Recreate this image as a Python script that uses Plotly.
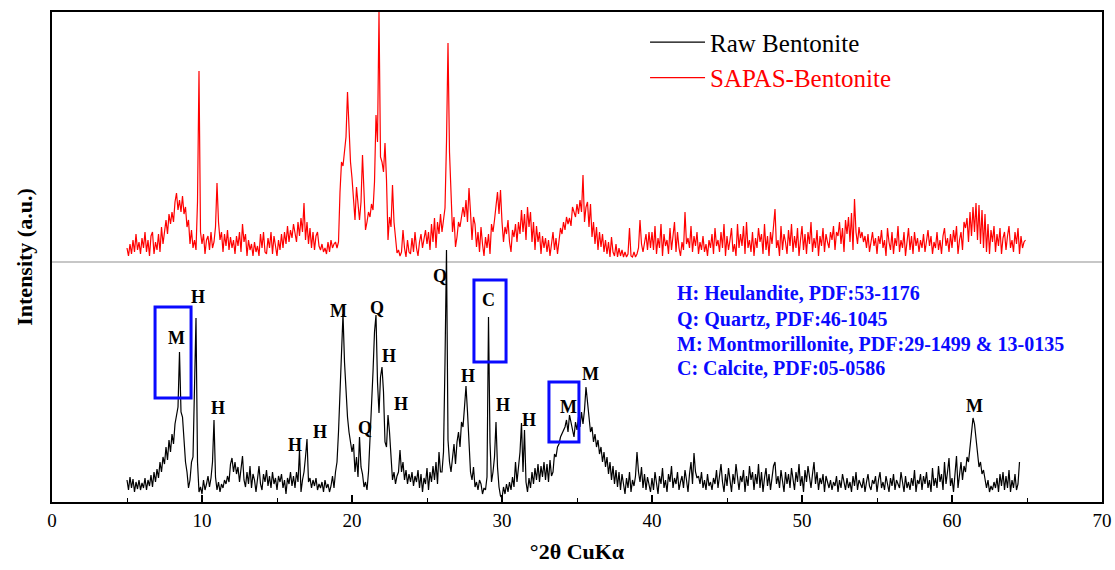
import numpy as np
import plotly.graph_objects as go

# ---------------- data ----------------
TWO_THETA_START = 5.0      # degrees 2-theta of first sample
TWO_THETA_STEP = 0.1       # sampling step, degrees

# Raw bentonite intensity (a.u.), one row per degree starting at 5.0
RAW_INTENSITY = [
    22, 12, 25, 14, 23, 10, 20, 13, 22, 12,
    19, 14, 24, 12, 22, 16, 27, 15, 30, 20,
    33, 24, 40, 30, 45, 38, 55, 42, 62, 50,
    68, 58, 78, 86, 95, 150, 90, 85, 55, 40,
    30, 14, 22, 40, 45, 110, 184, 40, 10, 15,
    8, 22, 12, 18, 26, 15, 24, 40, 82, 25,
    12, 20, 10, 18, 14, 22, 18, 26, 20, 38,
    44, 30, 40, 28, 35, 20, 32, 46, 22, 15,
    30, 18, 36, 14, 28, 22, 10, 25, 36, 18,
    12, 28, 20, 32, 16, 26, 14, 30, 18, 24,
    12, 26, 20, 28, 14, 22, 8, 24, 18, 30,
    16, 26, 14, 30, 20, 52, 10, 22, 30, 45,
    63, 20, 24, 14, 22, 16, 24, 12, 18, 14,
    20, 10, 22, 14, 18, 10, 16, 26, 14, 30,
    40, 70, 110, 150, 188, 140, 110, 85, 70, 60,
    50, 58, 30, 45, 25, 65, 35, 28, 15, 20,
    12, 30, 60, 90, 130, 170, 187, 120, 89, 125,
    135, 110, 60, 55, 87, 70, 40, 22, 30, 18,
    26, 30, 52, 30, 40, 22, 32, 18, 28, 20,
    30, 16, 26, 20, 32, 14, 28, 10, 24, 18,
    34, 12, 30, 20, 36, 22, 40, 18, 50, 30,
    30, 50, 140, 252, 62, 40, 30, 45, 58, 38,
    60, 70, 55, 80, 75, 95, 116, 90, 60, 30,
    22, 35, 15, 20, 12, 22, 18, 8, 14, 12,
    25, 185, 60, 20, 30, 45, 80, 35, 15, 6,
    4, 15, 8, 18, 10, 20, 12, 25, 15, 40,
    20, 35, 50, 79, 30, 72, 20, 10, 24, 14,
    30, 18, 34, 22, 38, 20, 36, 25, 40, 22,
    38, 20, 42, 26, 30, 48, 45, 55, 58, 65,
    68, 72, 75, 82, 70, 87, 80, 72, 65, 80,
    72, 85, 75, 90, 78, 92, 115, 100, 80, 70,
    75, 60, 68, 55, 62, 48, 55, 40, 50, 35,
    45, 28, 40, 22, 36, 18, 32, 15, 30, 12,
    28, 20, 8, 24, 14, 30, 10, 22, 16, 26,
    50, 30, 20, 35, 14, 28, 12, 25, 18, 10,
    24, 12, 30, 16, 8, 26, 18, 34, 14, 22,
    10, 28, 20, 36, 14, 24, 18, 30, 12, 20,
    26, 14, 32, 22, 10, 28, 40, 18, 49, 30,
    24, 26, 18, 30, 14, 22, 12, 28, 16, 20,
    12, 24, 18, 32, 14, 26, 38, 20, 10, 28,
    16, 34, 22, 10, 28, 18, 38, 24, 12, 26,
    20, 32, 10, 26, 16, 36, 22, 30, 12, 28,
    18, 38, 14, 30, 10, 24, 34, 16, 28, 12,
    22, 36, 40, 18, 26, 14, 32, 20, 10, 30,
    18, 28, 14, 34, 24, 12, 30, 20, 38, 16,
    26, 10, 32, 20, 36, 24, 14, 28, 40, 18,
    30, 12, 24, 18, 28, 10, 26, 20, 14, 22,
    12, 20, 16, 26, 10, 22, 14, 28, 18, 12,
    24, 14, 20, 10, 26, 16, 30, 12, 22, 18,
    14, 24, 10, 20, 28, 16, 12, 22, 18, 26,
    10, 22, 30, 14, 20, 12, 26, 18, 10, 24,
    16, 28, 12, 22, 18, 14, 30, 20, 10, 26,
    14, 20, 12, 24, 16, 32, 10, 22, 18, 28,
    12, 26, 18, 30, 14, 22, 10, 34, 16, 24,
    14, 36, 20, 28, 12, 40, 18, 30, 44, 16,
    24, 10, 34, 46, 14, 28, 40, 22, 36, 30,
    45, 40, 55, 70, 84, 78, 65, 50, 35, 40,
    28, 32, 20, 14, 22, 10, 16, 12, 20, 14,
    24, 10, 28, 16, 30, 12, 26, 14, 32, 10,
    22, 14, 28, 12, 18, 40,
]

# SAPAS-bentonite intensity (a.u.), one row per degree starting at 5.0
SAPAS_INTENSITY = [
    14, 6, 18, 8, 22, 10, 28, 12, 20, 8,
    24, 14, 30, 10, 22, 6, 26, 30, 8, 20,
    12, 28, 10, 35, 18, 30, 42, 28, 48, 38,
    50, 40, 60, 69, 52, 62, 50, 66, 48, 55,
    35, 42, 18, 32, 14, 22, 12, 60, 191, 30,
    18, 28, 8, 22, 26, 12, 30, 14, 20, 35,
    79, 40, 22, 30, 10, 28, 16, 32, 12, 25,
    14, 22, 8, 26, 16, 30, 10, 38, 20, 28,
    6, 22, 12, 18, 6, 20, 10, 16, 6, 28,
    14, 30, 10, 8, 24, 14, 30, 8, 26, 16,
    6, 22, 12, 28, 14, 30, 18, 36, 20, 32,
    24, 38, 28, 20, 40, 26, 44, 30, 59, 22,
    40, 18, 34, 14, 30, 12, 26, 30, 16, 12,
    18, 10, 14, 8, 20, 10, 22, 14, 18, 20,
    14, 20, 70, 100, 96, 112, 125, 170, 130, 100,
    84, 60, 42, 75, 55, 42, 60, 107, 70, 32,
    40, 50, 45, 58, 52, 80, 147, 120, 250, 105,
    100, 90, 119, 82, 22, 45, 35, 77, 40, 22,
    9, 12, 6, 10, 32, 14, 5, 22, 10, 8,
    24, 10, 30, 14, 6, 20, 28, 14, 24, 32,
    18, 30, 12, 38, 20, 44, 14, 40, 28, 48,
    30, 45, 54, 120, 219, 110, 65, 30, 45, 15,
    25, 40, 35, 48, 55, 45, 62, 40, 74, 50,
    22, 45, 38, 15, 30, 10, 35, 18, 6, 25,
    14, 28, 8, 38, 30, 42, 55, 70, 48, 72,
    40, 20, 35, 28, 42, 20, 10, 32, 25, 38,
    20, 40, 28, 52, 30, 48, 22, 55, 35, 50,
    20, 40, 12, 36, 20, 30, 8, 26, 14, 24,
    10, 22, 6, 18, 30, 12, 24, 8, 20, 34,
    28, 40, 32, 45, 38, 44, 36, 55, 50, 45,
    58, 48, 62, 50, 87, 40, 55, 60, 35, 58,
    25, 40, 18, 35, 12, 30, 15, 28, 10, 22,
    8, 20, 5, 25, 10, 6, 18, 5, 14, 6,
    12, 5, 10, 5, 8, 34, 6, 5, 10, 5,
    8, 14, 42, 18, 10, 22, 28, 12, 30, 14,
    30, 12, 36, 8, 24, 14, 38, 6, 28, 16,
    22, 8, 34, 12, 26, 40, 10, 30, 14, 6,
    20, 12, 50, 18, 24, 14, 36, 10, 26, 16,
    30, 8, 20, 12, 26, 10, 18, 6, 22, 14,
    28, 8, 34, 16, 22, 10, 30, 14, 38, 6,
    26, 12, 22, 34, 10, 18, 6, 38, 14, 28,
    16, 36, 8, 40, 14, 22, 10, 30, 6, 24,
    14, 34, 20, 28, 8, 38, 12, 26, 6, 30,
    18, 40, 53, 14, 22, 6, 36, 12, 28, 20,
    8, 32, 16, 38, 10, 26, 14, 34, 6, 22,
    36, 12, 28, 8, 30, 18, 40, 10, 24, 14,
    32, 6, 26, 16, 34, 10, 28, 20, 14, 30,
    22, 36, 12, 30, 26, 40, 18, 34, 10, 42,
    28, 45, 20, 49, 12, 63, 30, 18, 35, 24,
    30, 20, 26, 14, 28, 10, 22, 30, 16, 24,
    8, 26, 18, 32, 14, 22, 6, 34, 20, 12,
    30, 8, 24, 16, 36, 10, 22, 14, 30, 6,
    20, 34, 12, 26, 8, 30, 16, 24, 10, 22,
    14, 28, 10, 22, 32, 16, 26, 8, 20, 14,
    30, 12, 22, 8, 26, 34, 16, 24, 10, 28,
    14, 32, 20, 36, 8, 22, 30, 12, 40, 34,
    44, 20, 50, 26, 55, 30, 59, 22, 57, 18,
    52, 14, 48, 10, 38, 8, 32, 20, 36, 10,
    28, 16, 34, 8, 24, 30, 12, 26, 36, 14,
    22, 10, 30, 18, 34, 8, 26, 14, 20, 22,
]

SAPAS_OFFSET = 240          # vertical stacking offset of the upper pattern
SEPARATOR_LEVEL = 240       # grey divider between the two patterns

# Phase labels: (text, 2-theta, intensity)
PEAK_LABELS = [
    ("H", 9.73, 205), ("M", 8.27, 164), ("H", 11.07, 94),
    ("H", 16.2, 57), ("H", 17.87, 70), ("M", 19.13, 191),
    ("Q", 21.67, 194), ("Q", 20.87, 74), ("H", 22.47, 146),
    ("H", 23.27, 98), ("Q", 25.87, 226), ("C", 29.07, 202),
    ("H", 27.73, 126), ("H", 30.07, 97), ("H", 31.8, 82),
    ("M", 34.4, 95), ("M", 35.87, 128), ("M", 61.47, 96),
]
# Highlight boxes: (x0, x1, y0, y1)
BOXES = [(6.87, 9.27, 104, 195), (28.13, 30.27, 140, 222), (33.13, 35.13, 60, 120)]

PHASE_KEY = [
    "H: Heulandite, PDF:53-1176",
    "Q: Quartz, PDF:46-1045",
    "M: Montmorillonite, PDF:29-1499 & 13-0135",
    "C: Calcite, PDF:05-0586",
]

# ---------------- figure ----------------
raw = np.array(RAW_INTENSITY, dtype=float)
sapas = np.array(SAPAS_INTENSITY, dtype=float)
x_raw = np.round(TWO_THETA_START + TWO_THETA_STEP * np.arange(len(raw)), 2)
x_sapas = np.round(TWO_THETA_START + TWO_THETA_STEP * np.arange(len(sapas)), 2)

SERIF = "Liberation Serif"
BLUE = "#0a0aff"

fig = go.Figure()
fig.add_trace(go.Scatter(x=x_raw, y=raw, mode="lines", name="Raw Bentonite",
                         line=dict(color="black", width=1.2)))
fig.add_trace(go.Scatter(x=x_sapas, y=sapas + SAPAS_OFFSET, mode="lines",
                         name="<span style='color:#ff0000'>SAPAS-Bentonite</span>",
                         line=dict(color="#ff0000", width=1.2)))

fig.add_shape(type="line", xref="paper", yref="y", x0=0, x1=1,
              y0=SEPARATOR_LEVEL, y1=SEPARATOR_LEVEL,
              line=dict(color="#b4b4b4", width=1.5), layer="below")

for x0, x1, y0, y1 in BOXES:
    fig.add_shape(type="rect", xref="x", yref="y", x0=x0, x1=x1, y0=y0, y1=y1,
                  line=dict(color=BLUE, width=3))

for txt, xx, yy in PEAK_LABELS:
    fig.add_annotation(x=xx, y=yy, text=f"<b>{txt}</b>", showarrow=False,
                       font=dict(family=SERIF, size=18, color="black"),
                       xanchor="center", yanchor="middle")

key_y = [209, 183, 158, 134]
for line_txt, yy in zip(PHASE_KEY, key_y):
    fig.add_annotation(x=41.53, y=yy, text=f"<b>{line_txt}</b>", showarrow=False,
                       font=dict(family=SERIF, size=20, color=BLUE),
                       xanchor="left", yanchor="middle")

fig.update_layout(
    width=1115, height=570,
    margin=dict(l=52, r=13, t=12, b=68, autoexpand=False),
    plot_bgcolor="white", paper_bgcolor="white",
    font=dict(family=SERIF, color="black"),
    showlegend=True,
    legend=dict(x=0.5648, y=0.985, xanchor="left", yanchor="top",
                bgcolor="rgba(0,0,0,0)", borderwidth=0,
                font=dict(family=SERIF, size=25, color="black"),
                itemwidth=55, tracegroupgap=0),
)
fig.update_xaxes(
    range=[0, 70], dtick=10, tick0=0, automargin=False,
    showline=True, linecolor="black", linewidth=1.5, mirror=True,
    ticks="inside", ticklen=7, tickwidth=1.5, tickcolor="black",
    minor=dict(dtick=5, ticks="inside", ticklen=4, tickwidth=1.2, tickcolor="black"),
    showgrid=False, zeroline=False,
    tickfont=dict(family=SERIF, size=19, color="black"),
    title=dict(text="<b>°2θ CuKα</b>", font=dict(family=SERIF, size=22, color="black"),
               standoff=14),
)
fig.update_yaxes(
    range=[0, 490], showticklabels=False, ticks="", automargin=False,
    showline=True, linecolor="black", linewidth=1.5, mirror=True,
    showgrid=False, zeroline=False,
    title=dict(text="<b>Intensity (a.u.)</b>", font=dict(family=SERIF, size=22, color="black"),
               standoff=12),
)

fig.write_html("out.html")
